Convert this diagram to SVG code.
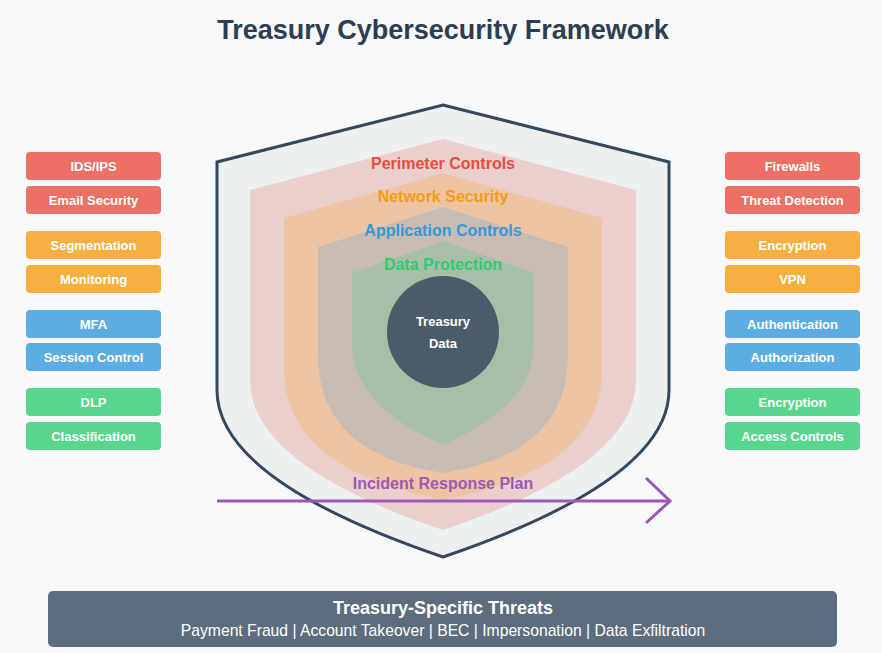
<svg xmlns="http://www.w3.org/2000/svg" width="882" height="653" viewBox="0 0 882 653">
<style>
text{font-family:"Liberation Sans",Arial,sans-serif;text-anchor:middle}
.title{font-size:27px;font-weight:bold;fill:#2c3e50}
.layer{font-size:16px;font-weight:bold}
.box text{font-size:13px;font-weight:bold;fill:#ffffff}
.red rect{fill:#ec7063}
.orange rect{fill:#f5b041}
.blue rect{fill:#5dade2}
.green rect{fill:#58d68d}
.core{font-size:13px;font-weight:bold;fill:#ffffff}
</style>
<rect width="882" height="653" fill="#f8f9fa"/>
<text class="title" x="443" y="39">Treasury Cybersecurity Framework</text>

<g id="shield">
<path d="M443,105 L669,162 L669,390 Q669,480 443,557 Q217,480 217,390 L217,162 Z" fill="#ecf0f1" stroke="#34495e" stroke-width="3" stroke-linejoin="miter"/>
</g>
<g id="layer-perimeter">
<path d="M443,139 L636,190 L636,380 Q636,465 443,530 Q250,465 250,380 L250,190 Z" fill="#ebcfcd"/>
</g>
<g id="layer-network">
<path d="M443,173 L602,218 L602,370 Q602,469 443,500 Q284,469 284,370 L284,218 Z" fill="#eec5a4"/>
</g>
<g id="layer-application">
<path d="M443,207 L568,247 L568,355 Q568,454 443,473 Q318,454 318,355 L318,247 Z" fill="#c8bcb2"/>
</g>
<g id="layer-data">
<path d="M443,241 L534,273 L534,345 Q534,405 443,445 Q352,405 352,345 L352,273 Z" fill="#a7bfa7"/>
</g>
<g id="layer-labels">
<text class="layer" x="443" y="169" fill="#e74c3c">Perimeter Controls</text>
<text class="layer" x="443" y="202" fill="#f39c12">Network Security</text>
<text class="layer" x="443" y="236" fill="#3498db">Application Controls</text>
<text class="layer" x="443" y="270" fill="#2ecc71">Data Protection</text>
</g>
<g id="treasury-data">
<circle cx="443" cy="332" r="56" fill="#4a5c6a"/>
<text class="core" x="443" y="326">Treasury</text>
<text class="core" x="443" y="348">Data</text>
</g>

<g id="connectors">
<line x1="217" y1="501" x2="669" y2="501" stroke="#9b59b6" stroke-width="3"/>
<polyline points="646,478 670,501 646,523" fill="none" stroke="#9b59b6" stroke-width="3"/>
<text class="layer" x="443" y="489" fill="#9b59b6">Incident Response Plan</text>
</g>

<g id="left-ids" class="box red"><rect x="26" y="152" width="135" height="28" rx="4"/><text x="93.5" y="170.5">IDS/IPS</text></g>
<g id="left-email" class="box red"><rect x="26" y="186" width="135" height="28" rx="4"/><text x="93.5" y="204.5">Email Security</text></g>
<g id="left-segmentation" class="box orange"><rect x="26" y="231" width="135" height="28" rx="4"/><text x="93.5" y="249.5">Segmentation</text></g>
<g id="left-monitoring" class="box orange"><rect x="26" y="265" width="135" height="28" rx="4"/><text x="93.5" y="283.5">Monitoring</text></g>
<g id="left-mfa" class="box blue"><rect x="26" y="310" width="135" height="28" rx="4"/><text x="93.5" y="328.5">MFA</text></g>
<g id="left-session" class="box blue"><rect x="26" y="343" width="135" height="28" rx="4"/><text x="93.5" y="361.5">Session Control</text></g>
<g id="left-dlp" class="box green"><rect x="26" y="388" width="135" height="28" rx="4"/><text x="93.5" y="406.5">DLP</text></g>
<g id="left-classification" class="box green"><rect x="26" y="422" width="135" height="28" rx="4"/><text x="93.5" y="440.5">Classification</text></g>

<g id="right-firewalls" class="box red"><rect x="725" y="152" width="135" height="28" rx="4"/><text x="792.5" y="170.5">Firewalls</text></g>
<g id="right-threat" class="box red"><rect x="725" y="186" width="135" height="28" rx="4"/><text x="792.5" y="204.5">Threat Detection</text></g>
<g id="right-encryption1" class="box orange"><rect x="725" y="231" width="135" height="28" rx="4"/><text x="792.5" y="249.5">Encryption</text></g>
<g id="right-vpn" class="box orange"><rect x="725" y="265" width="135" height="28" rx="4"/><text x="792.5" y="283.5">VPN</text></g>
<g id="right-authentication" class="box blue"><rect x="725" y="310" width="135" height="28" rx="4"/><text x="792.5" y="328.5">Authentication</text></g>
<g id="right-authorization" class="box blue"><rect x="725" y="343" width="135" height="28" rx="4"/><text x="792.5" y="361.5">Authorization</text></g>
<g id="right-encryption2" class="box green"><rect x="725" y="388" width="135" height="28" rx="4"/><text x="792.5" y="406.5">Encryption</text></g>
<g id="right-access" class="box green"><rect x="725" y="422" width="135" height="28" rx="4"/><text x="792.5" y="440.5">Access Controls</text></g>

<g id="threats">
<rect x="48" y="591" width="789" height="56" rx="5" fill="#5d6d7e"/>
<text x="443" y="614" font-size="18" font-weight="bold" fill="#ffffff">Treasury-Specific Threats</text>
<text x="443" y="636" font-size="15.7" fill="#ffffff">Payment Fraud | Account Takeover | BEC | Impersonation | Data Exfiltration</text>
</g>
</svg>
